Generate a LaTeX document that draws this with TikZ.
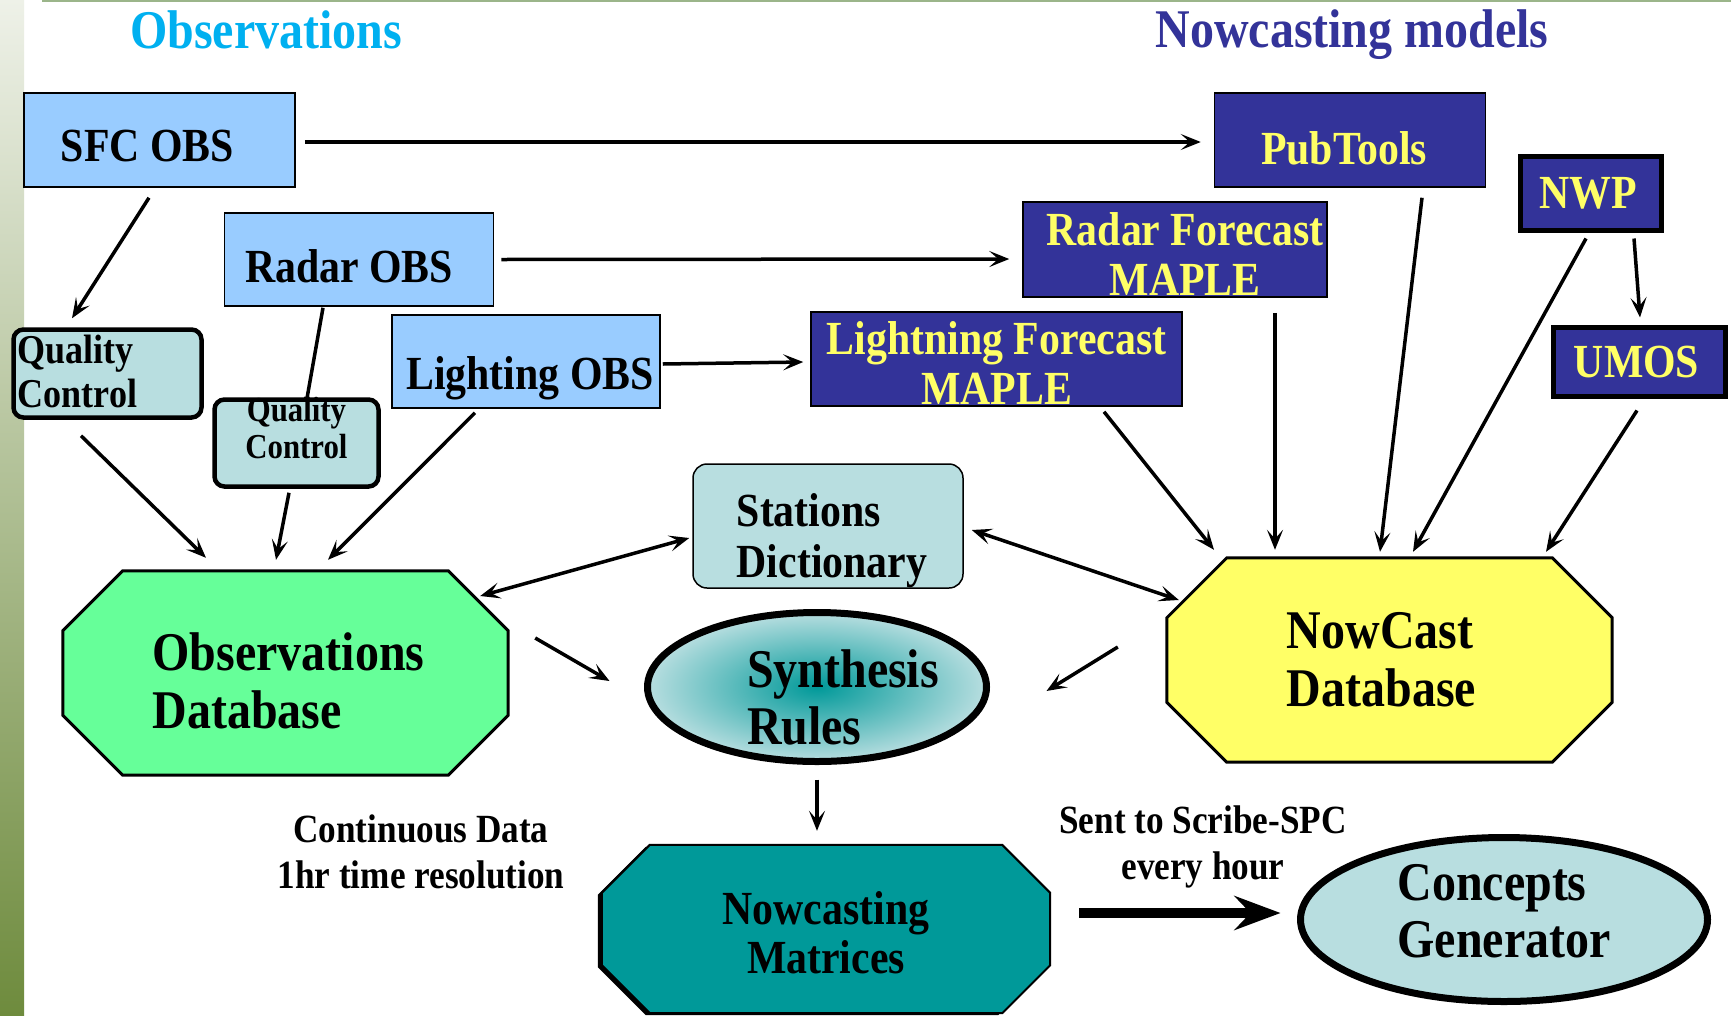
\documentclass[tikz,border=0pt]{standalone}
\usepackage{fontspec}
\setmainfont{Liberation Serif}[FakeStretch=0.88]
\usetikzlibrary{shapes.geometric, arrows.meta, calc, backgrounds}
\definecolor{obsblue}{RGB}{153,204,255}
\definecolor{modelnavy}{RGB}{51,51,153}
\definecolor{labelyellow}{RGB}{255,255,102}
\definecolor{qcteal}{RGB}{184,222,224}
\definecolor{dbgreen}{RGB}{102,255,153}
\definecolor{dbyellow}{RGB}{255,255,102}
\definecolor{matteal}{RGB}{0,153,153}
\definecolor{titlecyan}{RGB}{0,176,240}
\definecolor{stripolive}{RGB}{110,139,61}
\definecolor{striplight}{RGB}{238,241,232}
\definecolor{rulegreen}{RGB}{155,181,138}
\newcommand{\boldsize}[2]{\fontsize{#1pt}{#2pt}\selectfont\bfseries}
% octagon round a named node: node, cut, dx, dy
\newcommand{\octpath}[4]{($(#1.north west)+(#3+#2,#4)$) -- ($(#1.north east)+(#3-#2,#4)$)
  -- ($(#1.north east)+(#3,#4+#2)$) -- ($(#1.south east)+(#3,#4-#2)$)
  -- ($(#1.south east)+(#3-#2,#4)$) -- ($(#1.south west)+(#3+#2,#4)$)
  -- ($(#1.south west)+(#3,#4-#2)$) -- ($(#1.north west)+(#3,#4+#2)$) -- cycle}

\begin{document}
\begin{tikzpicture}[x=1pt, y=-1pt,
    arr/.style={line width=3.5pt, -{Stealth[length=20pt, width=16pt, inset=9pt]}},
    biarr/.style={line width=3.5pt, {Stealth[length=20pt, width=16pt, inset=9pt]}-{Stealth[length=20pt, width=16pt, inset=9pt]}},
    boxtext/.style={align=center, inner sep=0pt, font=\boldsize{47.5}{50}},
    modeltext/.style={boxtext, text=labelyellow},
    obsbox/.style={draw, line width=1.5pt, fill=obsblue, inner sep=0pt},
    modelbox/.style={draw, line width=1.5pt, fill=modelnavy, inner sep=0pt},
    qcbox/.style={draw, line width=4.5pt, rounded corners=10pt, fill=qcteal, inner sep=0pt},
    dbtext/.style={align=left, inner sep=0pt, font=\boldsize{54.5}{58}},
    oval/.style={ellipse, draw, line width=7pt, inner sep=0pt},
    note/.style={align=center, font=\boldsize{40}{46}}]
    \useasboundingbox (0,0) rectangle (1731,1015);

    % column titles
    \node[text=titlecyan, font=\boldsize{54.5}{56}] (obstitle) at (266,30) {Observations};
    \node[text=modelnavy, font=\boldsize{54.5}{56}] (modeltitle) at (1352,35) {Nowcasting models};

    % observation sources
    \node[obsbox, minimum width=271pt, minimum height=94pt,
          label={[boxtext, xshift=-12pt, yshift=-6pt]center:SFC OBS}] (sfc) at (159.5,140) {};
    \node[obsbox, minimum width=269pt, minimum height=93pt,
          label={[boxtext, xshift=-10pt, yshift=-7pt]center:Radar OBS}] (radarobs) at (359,259.5) {};
    \node[obsbox, minimum width=268pt, minimum height=93pt,
          label={[boxtext, xshift=4pt, yshift=-17pt]center:Lighting OBS}] (lightobs) at (526,361.5) {};
    \node[qcbox, minimum width=188pt, minimum height=88pt,
          label={[align=left, text width=180pt, font=\boldsize{41}{44}, yshift=2pt]center:{Quality\\Control}}] (qcsfc) at (107.5,373.5) {};
    \node[qcbox, minimum width=164pt, minimum height=87pt,
          label={[align=center, font=\boldsize{35}{37}, yshift=15pt]center:{Quality\\Control}}] (qcradar) at (296.5,443) {};

    % nowcasting models
    \node[modelbox, minimum width=271pt, minimum height=94pt,
          label={[modeltext, xshift=-6pt, yshift=-8pt]center:PubTools}] (pub) at (1350,140) {};
    \node[modelbox, minimum width=304pt, minimum height=95pt,
          label={[modeltext, xshift=10pt, yshift=-5pt]center:{Radar Forecast\\MAPLE}}] (radarfc) at (1175,249.5) {};
    \node[modelbox, minimum width=371pt, minimum height=94pt,
          label={[modeltext, yshift=-4pt]center:{Lightning Forecast\\MAPLE}}] (lightfc) at (996.5,359) {};
    \node[modelbox, line width=5pt, minimum width=141pt, minimum height=74pt,
          label={[modeltext, xshift=-3pt]center:NWP}] (nwp) at (1591,193) {};
    \node[modelbox, line width=5pt, minimum width=172pt, minimum height=69pt,
          label={[modeltext, xshift=-3pt]center:UMOS}] (umos) at (1639.5,362) {};

    % databases and rules
    \node[draw, line width=1.5pt, rounded corners=14pt, fill=qcteal, inner sep=0pt,
          minimum width=270pt, minimum height=124pt,
          label={[align=left, font=\boldsize{47.5}{51}, xshift=4pt, yshift=-15pt]center:{Stations\\Dictionary}}] (stations) at (828,526) {};
    \node[dbtext, minimum width=445pt, minimum height=204pt,
          label={[dbtext, xshift=3pt, yshift=-8pt]center:{Observations\\Database}}] (obsdb) at (285.5,673) {};
    \node[dbtext, minimum width=445pt, minimum height=204pt,
          label={[dbtext, xshift=-8pt]center:{NowCast\\Database}}] (nowdb) at (1389.5,660) {};
    \node[oval, inner color=matteal, outer color=qcteal, minimum width=339pt, minimum height=149pt,
          label={[align=left, font=\boldsize{54.5}{57}, xshift=26pt, yshift=-10pt]center:{Synthesis\\Rules}}] (synth) at (817,687) {};
    \node[dbtext, minimum width=448pt, minimum height=168pt,
          label={[align=center, font=\boldsize{47.5}{49}, yshift=-4pt]center:{Nowcasting\\Matrices}}] (matrices) at (826,929) {};
    \node[oval, fill=qcteal, minimum width=407pt, minimum height=164pt,
          label={[align=left, font=\boldsize{54.5}{57}, yshift=8pt]center:{Concepts\\Generator}}] (concepts) at (1504,919.5) {};

    \begin{scope}[on background layer]
        \fill[white] (0,0) rectangle (1731,1015);
        \shade[top color=striplight, bottom color=stripolive] (0,0) rectangle (24,1015);
        \draw[rulegreen, line width=2pt] (42,1) -- (1731,1);
        \filldraw[fill=dbgreen, line width=3pt] \octpath{obsdb}{60}{0}{0};
        \filldraw[fill=dbyellow, line width=3pt] \octpath{nowdb}{60}{0}{0};
        \fill[black] \octpath{matrices}{48}{-4}{2};
        \filldraw[fill=matteal, line width=2pt] \octpath{matrices}{48}{0}{0};
    \end{scope}

    % notes
    \node[note] (contnote) at (421,852) {Continuous Data\\1hr time resolution};
    \node[note] (sentnote) at (1203,847) {Sent to Scribe-SPC\\every hour};

    % connectors
    \draw[arr] ($(sfc.east)+(9,2)$) -- ($(pub.west)+(-13,2)$);
    \draw[arr] ($(radarobs.east)+(7,0)$) -- ($(radarfc.west)+(-13,9.5)$);
    \draw[arr] ($(lightobs.east)+(2,2.5)$) -- ($(lightfc.west)+(-7,3)$);
    \draw[arr] ($(sfc.south)+(-10.5,10)$) -- ($(qcsfc.north)+(-35.5,-9)$);
    \draw[line width=3.5pt] ($(radarobs.south)+(-36,1)$) -- ($(qcradar.north)+(10.5,1)$);
    \draw[arr] ($(qcsfc.south)+(-26.5,16)$) -- ($(obsdb.north)+(-79.5,-13)$);
    \draw[arr] ($(qcradar.south)+(-7.5,4)$) -- ($(obsdb.north)+(-9.5,-11)$);
    \draw[arr] ($(lightobs.south)+(-51,4)$) -- ($(obsdb.north)+(42.5,-11)$);
    \draw[biarr] ($(obsdb.east)+(-28,-77)$) -- ($(stations.west)+(-3,12)$);
    \draw[biarr] ($(stations.east)+(8,4)$) -- ($(nowdb.west)+(12,-60)$);
    \draw[arr] ($(obsdb.east)+(27,-35)$) -- ($(synth.west)+(-34.5,-6)$);
    \draw[arr] ($(nowdb.west)+(-49,-13)$) -- ($(synth.east)+(56.5,4)$);
    \draw[arr] ($(synth.south)+(0,14.5)$) -- ($(matrices.north)+(-9,-14)$);
    \draw[arr] ($(lightfc.south)+(107.5,5)$) -- ($(nowdb.north)+(-175.5,-8)$);
    \draw[arr] ($(radarfc.south)+(100,15)$) -- ($(nowdb.north)+(-114.5,-8)$);
    \draw[arr] ($(pub.south)+(72,10)$) -- ($(nowdb.north)+(-9.5,-6)$);
    \draw[arr] ($(nwp.south)+(-5,6)$) -- ($(nowdb.north)+(23.5,-6)$);
    \draw[arr] ($(nwp.south)+(43,6)$) -- ($(umos.north)+(0.5,-7.5)$);
    \draw[arr] ($(umos.south)+(-2.5,11.5)$) -- ($(nowdb.north)+(156.5,-6)$);
    \draw[line width=10pt, -{Stealth[length=46pt, width=34pt, inset=16pt]}]
        ($(matrices.east)+(29,-16)$) -- ($(concepts.west)+(-16.5,-6.5)$);
\end{tikzpicture}
\end{document}
